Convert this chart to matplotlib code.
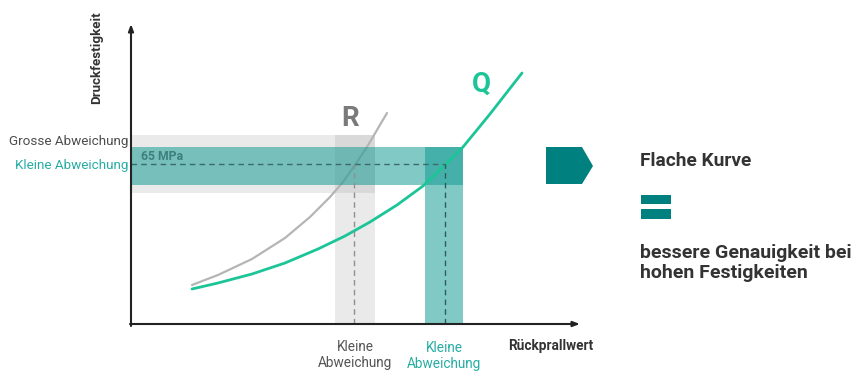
"""
Rückprallwert vs Druckfestigkeit: flache Kurve (Q) gegen steile Kurve (R).
"""
import matplotlib
matplotlib.use('Agg')
import matplotlib.pyplot as plt
from matplotlib.patches import Rectangle, Polygon

plt.rcParams['font.family'] = ['Roboto', 'DejaVu Sans']

# curve points (chart units: x = Rückprallwert, y = Druckfestigkeit)
q_x = [61, 87, 121, 154, 187, 214, 239, 266, 292, 314, 332, 359, 391]
q_y = [35, 41, 50, 61, 75, 88, 102, 119, 138, 159, 177, 210, 251]
r_x = [61, 87, 121, 154, 179, 199, 212, 224, 236, 246, 256]
r_y = [39, 49, 65, 86, 107, 127, 142, 159, 177, 194, 211]

# 65 MPa level and where each curve hits it
level_y = 160
r_hit_x = 223
q_hit_x = 314

# scatter bands (lower, upper)
r_band_y = (131, 189)
r_band_x = (204, 244)
q_band_y = (139, 177)
q_band_x = (294, 332)

X_MAX, Y_MAX = 447, 299

TEAL_DARK = '#00807e'
Q_COLOR = '#1cc597'
R_COLOR = '#b5b5b5'
BAND_TEAL = (0.05, 0.60, 0.57, 0.52)
BAND_GRAY = (0.6, 0.6, 0.6, 0.2)

W, H = 854, 372
fig = plt.figure(figsize=(W / 100, H / 100), dpi=100)

# chart area, origin at the axis corner
ax = fig.add_axes([131 / W, (H - 324) / H, X_MAX / W, Y_MAX / H])
ax.set_xlim(0, X_MAX)
ax.set_ylim(0, Y_MAX)
ax.axis('off')

# gray band (R)
ax.add_patch(Rectangle((0, r_band_y[0]), r_band_x[1], r_band_y[1] - r_band_y[0],
                       color=BAND_GRAY, lw=0, zorder=1))
ax.add_patch(Rectangle((r_band_x[0], 0), r_band_x[1] - r_band_x[0], r_band_y[1],
                       color=BAND_GRAY, lw=0, zorder=1))

ax.plot(r_x, r_y, color=R_COLOR, lw=1.6, zorder=2, solid_capstyle='round',
        solid_joinstyle='round')

# teal band (Q)
ax.add_patch(Rectangle((0, q_band_y[0]), q_band_x[1], q_band_y[1] - q_band_y[0],
                       color=BAND_TEAL, lw=0, zorder=3))
ax.add_patch(Rectangle((q_band_x[0], 0), q_band_x[1] - q_band_x[0], q_band_y[1],
                       color=BAND_TEAL, lw=0, zorder=3))

ax.plot(q_x, q_y, color=Q_COLOR, lw=2, zorder=4, solid_capstyle='round',
        solid_joinstyle='round')

# dashed guides
ax.plot([0, q_hit_x], [level_y, level_y], ls=(0, (4, 3)), color='#3d6a68', lw=1, zorder=5)
ax.plot([r_hit_x, r_hit_x], [0, level_y], ls=(0, (4, 3)), color='#8f8f8f', lw=1, zorder=5)
ax.plot([q_hit_x, q_hit_x], [0, level_y], ls=(0, (4, 3)), color='#2f5c5a', lw=1, zorder=5)

# overlay in pixel coordinates for axes arrows and annotations
ov = fig.add_axes([0, 0, 1, 1])
ov.set_xlim(0, W)
ov.set_ylim(H, 0)
ov.axis('off')
ov.patch.set_alpha(0)

arrow = dict(arrowstyle='-|>,head_length=0.4,head_width=0.15', color='#222222', lw=1.5,
             shrinkA=0, shrinkB=0)
ov.annotate('', xy=(131, 24), xytext=(131, 326), arrowprops=arrow)
ov.annotate('', xy=(580, 324), xytext=(130, 324), arrowprops=arrow)

ov.text(97, 58, 'Druckfestigkeit', rotation=90, ha='center', va='center',
        fontsize=9.6, fontweight='bold', color='#333333')
ov.text(128, 141, 'Grosse Abweichung', ha='right', va='center', fontsize=9.7, color='#4d4d4d')
ov.text(128, 166, 'Kleine Abweichung', ha='right', va='center', fontsize=9.7, color='#26ada3')
ov.text(141, 156, '65 MPa', ha='left', va='center', fontsize=8.8, fontweight='bold',
        color='#3f7f7b')

ov.text(350, 118, 'R', ha='center', va='center', fontsize=20, fontweight='bold', color='#7a7a7a')
ov.text(481, 84, 'Q', ha='center', va='center', fontsize=20, fontweight='bold', color=Q_COLOR)

ov.text(355, 355, 'Kleine\nAbweichung', ha='center', va='center', fontsize=9.8,
        color='#555555', linespacing=1.1)
ov.text(444, 356, 'Kleine\nAbweichung', ha='center', va='center', fontsize=9.8,
        color='#26ada3', linespacing=1.1)
ov.text(551, 346, 'Rückprallwert', ha='center', va='center', fontsize=9.8,
        fontweight='bold', color='#333333')

# right-hand conclusion
ov.add_patch(Polygon([(546, 147), (582, 147), (593, 166), (582, 184), (546, 184)],
                     closed=True, color=TEAL_DARK, lw=0))
ov.text(640, 161, 'Flache Kurve', ha='left', va='center', fontsize=13.8,
        fontweight='bold', color='#333333')
ov.add_patch(Rectangle((641, 195), 30, 9, color=TEAL_DARK, lw=0))
ov.add_patch(Rectangle((641, 209), 30, 10, color=TEAL_DARK, lw=0))
ov.text(640, 263, 'bessere Genauigkeit bei\nhohen Festigkeiten', ha='left', va='center',
        fontsize=14, fontweight='bold', color='#333333', linespacing=1.15)

plt.savefig('out.png', dpi=100, facecolor='white')
plt.close()
